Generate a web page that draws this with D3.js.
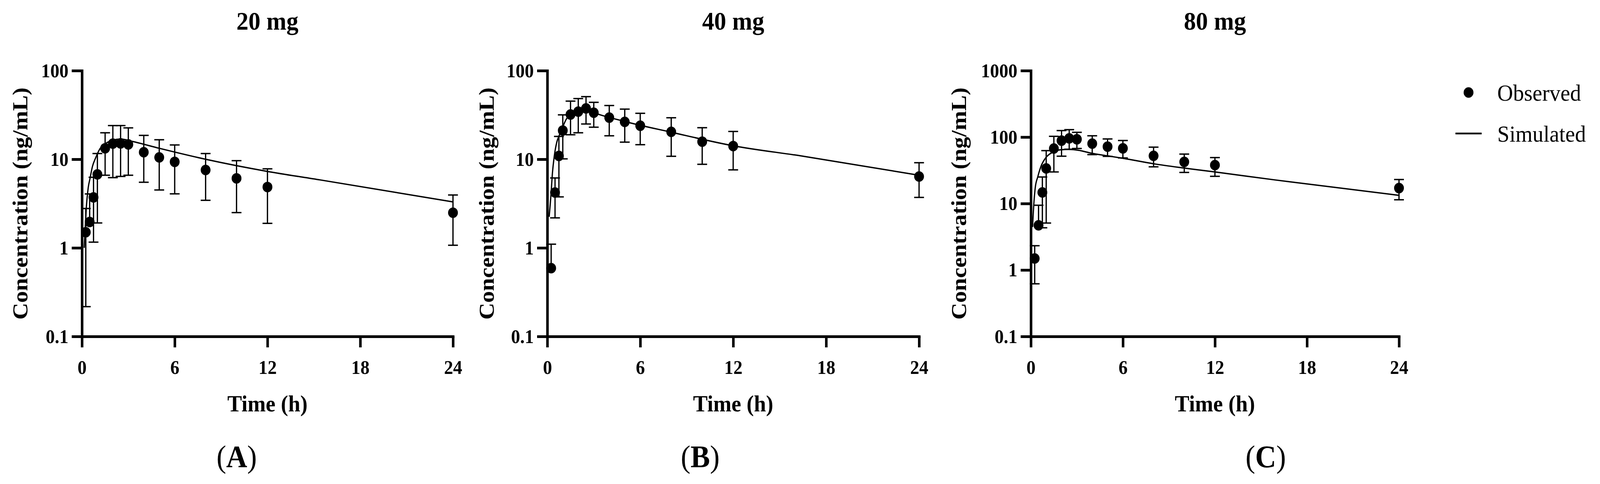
<!DOCTYPE html>
<html lang="en"><head><meta charset="utf-8">
<title>Concentration-time profiles</title>
<script src="https://cdn.jsdelivr.net/npm/d3@7"></script>
<style>
html, body { margin: 0; padding: 0; background: #fff; overflow: hidden; }
svg { display: block; }
text { font-family: "Liberation Serif", "DejaVu Serif", serif; fill: #000; }
</style>
</head>
<body>
<script>
// sampling times (h), same for every dose
var times = [0.25, 0.5, 0.75, 1, 1.5, 2, 2.5, 3, 4, 5, 6, 8, 10, 12, 24];

// 20 mg
var obs20 = [1.5, 1.96, 3.71, 6.75, 13.3, 15.0, 15.1, 14.7, 12.0, 10.5, 9.35, 7.56, 6.09, 4.86, 2.49];
var up20  = [2.78, 4.06, 6.26, 11.6, 19.9, 24.0, 24.0, 22.6, 18.6, 16.6, 14.5, 11.6, 9.64, 7.8, 3.95];
var lo20  = [0.217, null, 1.16, 1.91, 6.6, 6.2, 6.4, 6.6, 5.5, 4.5, 4.07, 3.44, 2.5, 1.89, 1.07];
var simT20 = [0.15, 0.29, 0.41, 0.52, 0.68, 0.89, 1.15, 1.52, 2, 2.5, 3.25, 5, 8, 12, 15.4, 24];
var simV20 = [1.0, 2.94, 4.82, 6.04, 8.28, 10.4, 13.0, 15.0, 16.4, 16.9, 15.9, 13.3, 10.0, 7.29, 5.85, 3.3];

// 40 mg
var obs40 = [0.59, 4.21, 10.9, 21.1, 32.0, 34.5, 37.5, 33.5, 29.5, 26.4, 23.9, 20.4, 15.8, 14.1, 6.38];
var up40  = [1.10, 6.15, 18.1, 31.7, 45.3, 48.4, 50.9, 43.9, 40.4, 36.8, 33.0, 29.4, 22.7, 20.6, 9.14];
var lo40  = [null, 2.18, 3.76, 10.1, 18.9, 19.9, 25.0, 23.0, 18.4, 15.6, 14.6, 10.8, 8.77, 7.59, 3.71];
var simT40 = [0.12, 0.24, 0.33, 0.45, 0.61, 0.77, 0.98, 1.24, 1.5, 2.03, 2.5, 3.08, 5, 8, 12, 16.4, 24];
var simV40 = [2.24, 4.02, 6.91, 10.8, 15.5, 18.6, 22.8, 28.6, 32.3, 35.3, 36.3, 33.2, 26.7, 20.2, 14.2, 10.9, 6.6];

// 80 mg
var obs80 = [1.49, 4.70, 14.7, 33.8, 67.3, 88.4, 95.6, 92.7, 79.8, 71.9, 67.7, 52.2, 42.3, 37.9, 17.1];
var up80  = [2.32, 9.43, 25.1, 62.6, 102.7, 125.4, 129.4, 118, 104.7, 93.8, 88.9, 70.6, 55.5, 49.2, 23.0];
var lo80  = [0.62, null, 4.32, 5.09, 29.9, 51.6, 65.7, 67.4, 54.5, 51.3, 48.6, 35.7, 29.4, 25.7, 11.4];
var simT80 = [0.11, 0.19, 0.29, 0.45, 0.66, 0.98, 1.41, 1.94, 2.47, 3.1, 3.95, 5, 6.07, 7.97, 10, 12, 15.9, 24];
var simV80 = [4.43, 9.6, 17.6, 25.2, 36.3, 49.1, 59.0, 64.5, 65.3, 63.4, 57.2, 52.2, 47.7, 39.8, 34.2, 29.9, 22.7, 13.3];

var xTicks = [0, 6, 12, 18, 24];
var yTicksAB = [0.1, 1, 10, 100];
var yTicksC = [0.1, 1, 10, 100, 1000];
var titles = ["20 mg", "40 mg", "80 mg"];
var tags = ["A", "B", "C"];
var legendLabels = ["Observed", "Simulated"];

var width = 4394, height = 1240;
var plotTop = 181, plotBottom = 862;

// drawn in a fixed 4394x1240 frame, stretched to fill the viewport
var svg = d3.select("body").append("svg")
    .attr("viewBox", "0 0 " + width + " " + height)
    .attr("preserveAspectRatio", "none")
    .style("width", "100vw")
    .style("height", "100vh");

var panels = [
  {title: titles[0], tag: tags[0], x0: 225, x1: 1244, yTicks: yTicksAB, obs: obs20, up: up20, lo: lo20, simT: simT20, simV: simV20, labelOff: 150, tagX: 650},
  {title: titles[1], tag: tags[1], x0: 1503, x1: 2524, yTicks: yTicksAB, obs: obs40, up: up40, lo: lo40, simT: simT40, simV: simV40, labelOff: 147, tagX: 1923},
  {title: titles[2], tag: tags[2], x0: 2831, x1: 3842, yTicks: yTicksC, obs: obs80, up: up80, lo: lo80, simT: simT80, simV: simV80, labelOff: 178, tagX: 3476}
];

panels.forEach(drawPanel);

function drawPanel(p) {
  var x = d3.scaleLinear().domain([0, 24]).range([p.x0, p.x1]);
  var y = d3.scaleLog().domain([0.1, p.yTicks[p.yTicks.length - 1]]).range([plotBottom, plotTop]);
  var g = svg.append("g");

  var xAxis = d3.axisBottom(x).tickValues(xTicks).tickSize(28).tickSizeOuter(0).tickPadding(33);
  var yAxis = d3.axisLeft(y).tickValues(p.yTicks).tickSize(28).tickSizeOuter(0).tickPadding(9)
      .tickFormat(d3.format("~g"));

  var gx = g.append("g").attr("transform", "translate(0," + plotBottom + ")").call(xAxis);
  var gy = g.append("g").attr("transform", "translate(" + p.x0 + ",0)").call(yAxis);

  [gx, gy].forEach(function(a) {
    a.selectAll(".domain").attr("stroke-width", 7).attr("stroke-linecap", "square");
    a.selectAll(".tick line").attr("stroke-width", 7);
    a.selectAll("text")
      .style("font-family", '"Liberation Serif", serif')
      .attr("font-size", 50)
      .attr("font-weight", "bold");
  });

  // simulated line
  var sim = p.simT.map(function(t, i) { return [t, p.simV[i]]; });
  g.append("path")
    .datum(sim)
    .attr("fill", "none")
    .attr("stroke", "#000")
    .attr("stroke-width", 3.5)
    .attr("d", d3.line()
      .x(function(d) { return x(d[0]); })
      .y(function(d) { return y(d[1]); })
      .curve(d3.curveMonotoneX));

  // observed with error bars
  var obs = times.map(function(t, i) { return {t: t, v: p.obs[i], hi: p.up[i], lo: p.lo[i]}; });
  var cap = 13.5;
  var eb = g.append("g").attr("stroke", "#000").attr("stroke-width", 3.5);
  obs.forEach(function(d) {
    var cx = x(d.t);
    eb.append("line").attr("x1", cx).attr("x2", cx).attr("y1", y(d.v)).attr("y2", y(d.hi));
    eb.append("line").attr("x1", cx - cap).attr("x2", cx + cap).attr("y1", y(d.hi)).attr("y2", y(d.hi));
    if (d.lo != null) {
      eb.append("line").attr("x1", cx).attr("x2", cx).attr("y1", y(d.v)).attr("y2", y(d.lo));
      eb.append("line").attr("x1", cx - cap).attr("x2", cx + cap).attr("y1", y(d.lo)).attr("y2", y(d.lo));
    }
  });
  g.selectAll("circle.obs")
    .data(obs)
    .enter()
    .append("circle")
    .attr("class", "obs")
    .attr("cx", function(d) { return x(d.t); })
    .attr("cy", function(d) { return y(d.v); })
    .attr("r", 13.5)
    .attr("fill", "#000");

  var mid = (p.x0 + p.x1) / 2;
  g.append("text")
    .attr("x", mid).attr("y", 76)
    .attr("text-anchor", "middle")
    .attr("font-size", 66).attr("font-weight", "bold")
    .text(p.title);

  g.append("text")
    .attr("x", mid).attr("y", 1054)
    .attr("text-anchor", "middle")
    .attr("font-size", 60).attr("font-weight", "bold")
    .text("Time (h)");

  g.append("text")
    .attr("transform", "translate(" + (p.x0 - p.labelOff) + "," + ((plotTop + plotBottom) / 2) + ") rotate(-90)")
    .attr("text-anchor", "middle")
    .attr("font-size", 60).attr("font-weight", "bold")
    .text("Concentration (ng/mL)");

  var tag = g.append("text")
    .attr("x", p.tagX).attr("y", 1197)
    .attr("text-anchor", "middle")
    .attr("font-size", 80);
  tag.append("tspan").text("(");
  tag.append("tspan").attr("font-weight", "bold").text(p.tag);
  tag.append("tspan").text(")");
}

// legend
var lg = svg.append("g");
lg.append("circle").attr("cx", 4033).attr("cy", 237).attr("r", 13.5).attr("fill", "#000");
lg.append("text").attr("x", 4112).attr("y", 258).attr("font-size", 60).text(legendLabels[0]);
lg.append("line").attr("x1", 3997).attr("x2", 4069).attr("y1", 342).attr("y2", 342)
  .attr("stroke", "#000").attr("stroke-width", 4.5);
lg.append("text").attr("x", 4112).attr("y", 363).attr("font-size", 60).text(legendLabels[1]);
</script>
</body></html>
